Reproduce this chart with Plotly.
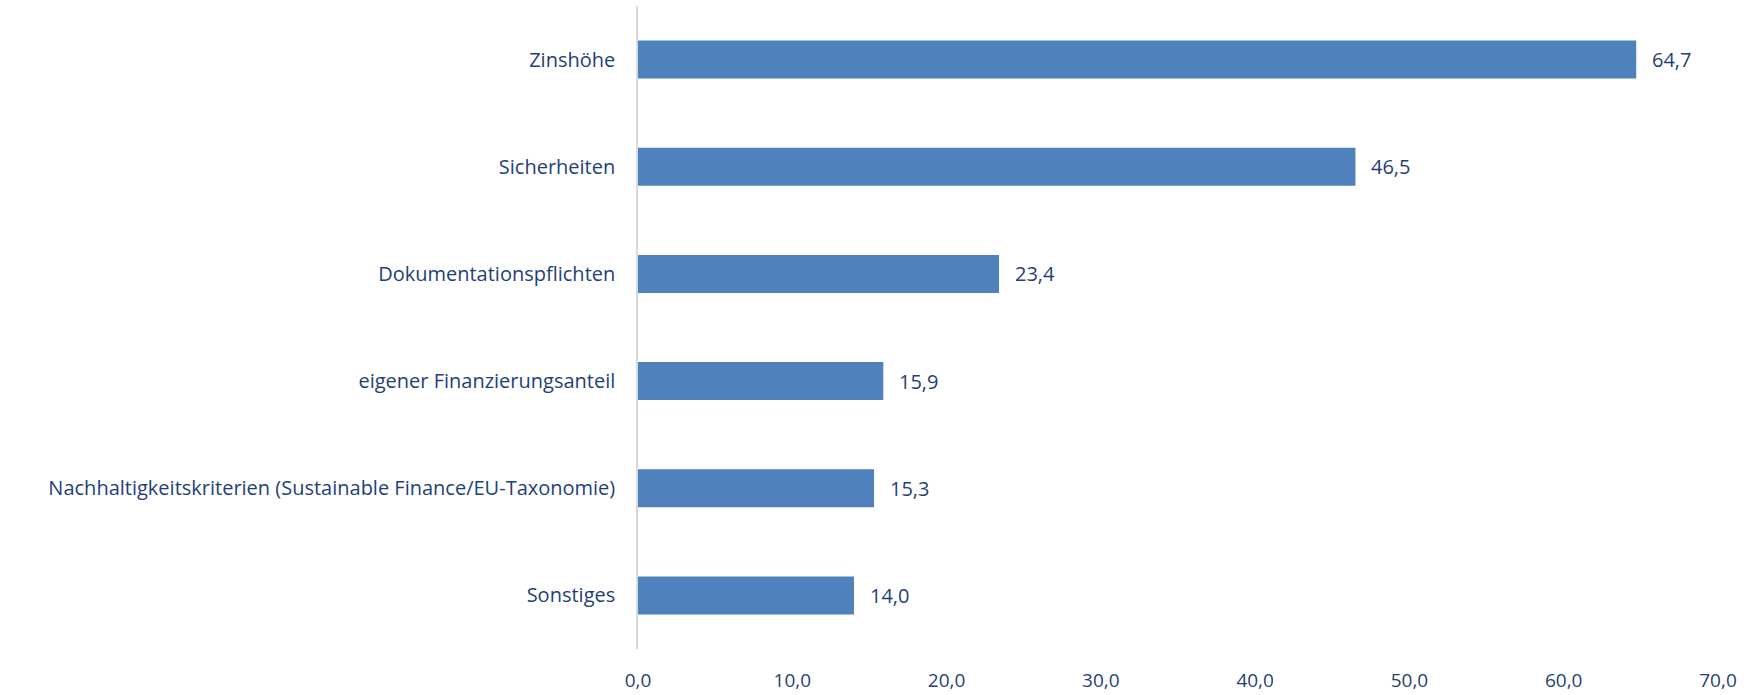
import plotly.graph_objects as go

categories = [
    "Zinshöhe",
    "Sicherheiten",
    "Dokumentationspflichten",
    "eigener Finanzierungsanteil",
    "Nachhaltigkeitskriterien (Sustainable Finance/EU-Taxonomie)",
    "Sonstiges",
]
values = [64.7, 46.5, 23.4, 15.9, 15.3, 14.0]
x_ticks = [0, 10, 20, 30, 40, 50, 60, 70]

TEXT = "#1F3F77"
BAR = "#4F81BD"
FONT = "Open Sans"

fig = go.Figure()
fig.add_trace(go.Bar(
    x=values,
    y=categories,
    orientation="h",
    marker=dict(color=BAR, line=dict(width=0)),
    hoverinfo="x+y",
))

for c, v in zip(categories, values):
    fig.add_annotation(
        x=v, y=c, xref="x", yref="y",
        text=f"{v:.1f}".replace(".", ","),
        showarrow=False, xanchor="left", xshift=14,
        font=dict(family=FONT, size=20, color=TEXT),
    )

fig.update_layout(
    width=1758, height=695,
    margin=dict(l=638, r=40, t=6, b=46, autoexpand=False),
    paper_bgcolor="white", plot_bgcolor="white",
    separators=",.",
    bargap=0.645,
    showlegend=False,
    font=dict(family=FONT, size=20, color=TEXT),
)
fig.update_xaxes(
    range=[0, 70], tickvals=x_ticks, tickformat=".1f",
    showgrid=False, zeroline=False, showline=False, automargin=False,
    ticks="", ticklabelstandoff=18,
    tickfont=dict(family=FONT, size=19, color=TEXT),
)
fig.update_yaxes(
    autorange="reversed",
    showgrid=False, zeroline=False, automargin=False,
    showline=True, linecolor="#D9D9D9", linewidth=1.5,
    ticks="", ticklabelstandoff=17,
    tickfont=dict(family=FONT, size=20, color=TEXT),
)

fig.write_html(
    "out.html",
    config={"displayModeBar": False},
    post_script="document.body.style.margin='0';document.body.style.overflow='hidden';",
)
